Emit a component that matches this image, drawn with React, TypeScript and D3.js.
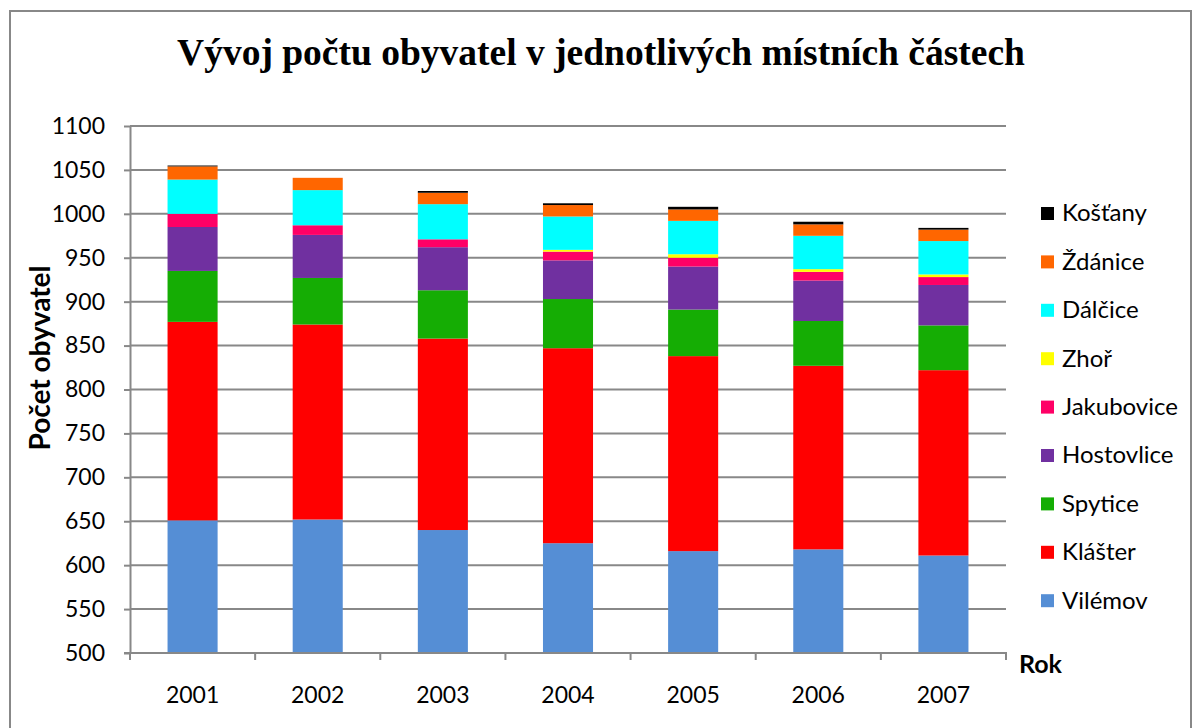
import { axisBottom, axisLeft, scaleBand, scaleLinear, select, stack } from 'd3'
import React, { useEffect, useRef } from 'react'

const years = ['2001', '2002', '2003', '2004', '2005', '2006', '2007']

// počty obyvatel
const vilemov = [651, 652, 640, 625, 616, 618, 611]
const klaster = [226, 222, 218, 222, 222, 209, 211]
const spytice = [58, 53, 55, 56, 53, 51, 51]
const hostovlice = [50, 49, 49, 44, 49, 46, 46]
const jakubovice = [15, 11, 9, 10, 10, 10, 9]
const zhor = [0, 0, 0, 2, 4, 3, 3]
const dalcice = [39, 40, 40, 38, 38, 38, 38]
const zdanice = [15, 14, 13, 13, 13, 13, 13]
const kostany = [1, 0, 2, 2, 3, 3, 2]

const seriesNames = ['Vilémov', 'Klášter', 'Spytice', 'Hostovlice', 'Jakubovice', 'Zhoř', 'Dálčice', 'Ždánice', 'Košťany']
const seriesValues = [vilemov, klaster, spytice, hostovlice, jakubovice, zhor, dalcice, zdanice, kostany]
const seriesColors = ['#558ed5', '#ff0000', '#15ad04', '#7030a0', '#ff0066', '#ffff00', '#00ffff', '#ff6600', '#000000']

const yTicks = [500, 550, 600, 650, 700, 750, 800, 850, 900, 950, 1000, 1050, 1100]

const W = 1197
const H = 728
const gray = '#888888'
const tickFont = 'Lato, "Open Sans", sans-serif'

function App() {
  const svgRef = useRef<SVGSVGElement>(null)

  useEffect(() => {
    const svg = select(svgRef.current)
    svg.selectAll('*').remove()

    const margin = { top: 126, left: 130, right: 1006, bottom: 653 }

    const x = scaleBand<string>()
      .domain(years)
      .range([margin.left, margin.right])
      .paddingInner(0.6)
      .paddingOuter(0.3)

    // osa zacina na 500, spodek sloupcu se orizne
    const y = scaleLinear()
      .domain([500, 1100])
      .range([margin.bottom, margin.top])
      .clamp(true)

    const rows = years.map((yr, i) => {
      const r: any = { year: yr }
      seriesNames.forEach((n, j) => (r[n] = seriesValues[j][i]))
      return r
    })
    const layers = stack<any>().keys(seriesNames)(rows)

    // ramecek
    svg.append('rect')
      .attr('x', 10).attr('y', 11)
      .attr('width', 1181).attr('height', 740)
      .attr('fill', 'white')
      .attr('stroke', gray)
      .attr('stroke-width', 2)

    svg.append('text')
      .attr('x', 601).attr('y', 65)
      .attr('text-anchor', 'middle')
      .style('font-family', '"Liberation Serif", "Times New Roman", serif')
      .style('font-weight', 'bold')
      .style('font-size', '37.5px')
      .text('Vývoj počtu obyvatel v jednotlivých místních částech')

    // mrizka
    svg.append('g')
      .selectAll('line')
      .data(yTicks.slice(1))
      .join('line')
      .attr('x1', margin.left).attr('x2', margin.right)
      .attr('y1', d => y(d)).attr('y2', d => y(d))
      .attr('stroke', gray)
      .attr('stroke-width', 2)

    // sloupce
    svg.append('g')
      .selectAll('g')
      .data(layers)
      .join('g')
      .attr('fill', (_, i) => seriesColors[i])
      .selectAll('rect')
      .data(d => d)
      .join('rect')
      .attr('x', d => x(d.data.year)!)
      .attr('width', x.bandwidth())
      .attr('y', d => y(d[1]))
      .attr('height', d => y(d[0]) - y(d[1]))

    const yAxis = axisLeft(y)
      .tickValues(yTicks)
      .tickFormat(d => String(d))
      .tickSizeInner(6)
      .tickSizeOuter(0)
      .tickPadding(19)
    const gy = svg.append('g')
      .attr('transform', `translate(${margin.left},0)`)
      .call(yAxis)
    gy.select('.domain').attr('stroke', gray).attr('stroke-width', 2)
    gy.selectAll('.tick line').attr('stroke', gray).attr('stroke-width', 2)
    gy.selectAll('.tick text')
      .style('font-family', tickFont)
      .style('font-size', '23px')
      .attr('fill', '#000')

    const xAxis = axisBottom(x).tickSize(0).tickPadding(34)
    const gx = svg.append('g')
      .attr('transform', `translate(0,${margin.bottom})`)
      .call(xAxis)
    gx.select('.domain').remove()
    gx.selectAll('.tick text')
      .style('font-family', tickFont)
      .style('font-size', '23px')
      .attr('fill', '#000')

    // osa x s delicimi carkami
    svg.append('line')
      .attr('x1', margin.left - 6).attr('x2', margin.right + 1)
      .attr('y1', margin.bottom).attr('y2', margin.bottom)
      .attr('stroke', gray).attr('stroke-width', 2)
    const bounds = years.map(yr => x(yr)! - x.step() * 0.3).concat([margin.right])
    svg.append('g')
      .selectAll('line')
      .data(bounds)
      .join('line')
      .attr('x1', d => d).attr('x2', d => d)
      .attr('y1', margin.bottom).attr('y2', margin.bottom + 7)
      .attr('stroke', gray).attr('stroke-width', 2)

    svg.append('text')
      .attr('x', 1019).attr('y', 673)
      .style('font-family', tickFont)
      .style('font-weight', 'bold')
      .style('font-size', '25px')
      .text('Rok')

    svg.append('text')
      .attr('transform', 'translate(50,358) rotate(-90)')
      .attr('text-anchor', 'middle')
      .style('font-family', tickFont)
      .style('font-weight', 'bold')
      .style('font-size', '28px')
      .text('Počet obyvatel')

    // legenda
    const legend = svg.append('g')
      .selectAll('g')
      .data(seriesNames.map((n, i) => ({ n, c: seriesColors[i] })).reverse())
      .join('g')
      .attr('transform', (_, i) => `translate(1041,${213 + i * 48.4})`)
    legend.append('rect')
      .attr('x', 0).attr('y', -6)
      .attr('width', 13).attr('height', 13)
      .attr('fill', d => d.c)
    legend.append('text')
      .attr('x', 21).attr('y', 0)
      .attr('dy', '0.35em')
      .style('font-family', tickFont)
      .style('font-size', '24px')
      .text(d => d.n)
  }, [])

  return (
    <div style={{ position: 'absolute', left: 0, top: 0 }}>
      <svg ref={svgRef} width={W} height={H} style={{ display: 'block' }} />
    </div>
  )
}

export default App
